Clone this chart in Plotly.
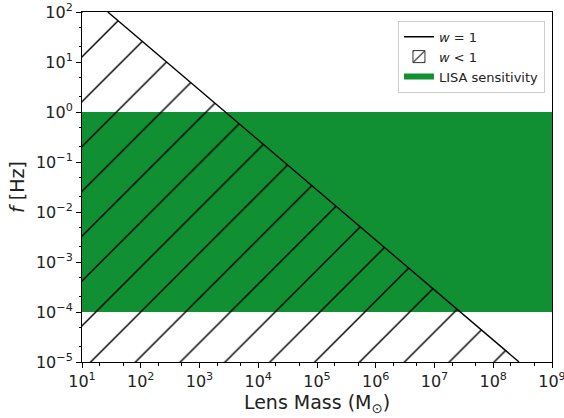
import plotly.graph_objects as go

# Data
x_range_exp = [1, 9]          # log10 of lens mass axis limits
y_range_exp = [-5, 2]         # log10 of frequency axis limits
w1_mass = [27.5, 2.75e8]      # w = 1 line endpoints (M_sun)
w1_freq = [1e2, 1e-5]         # w = 1 line endpoints (Hz)
lisa_f_low = 1e-4
lisa_f_high = 1e0
x_tick_exps = list(range(1, 10))
y_tick_exps = list(range(-5, 3))

xmin, xmax = 10 ** x_range_exp[0], 10 ** x_range_exp[1]
ymin, ymax = 10 ** y_range_exp[0], 10 ** y_range_exp[1]

fig = go.Figure()

# LISA band
fig.add_trace(go.Scatter(
    x=[xmin, xmax, xmax, xmin, xmin],
    y=[lisa_f_low, lisa_f_low, lisa_f_high, lisa_f_high, lisa_f_low],
    fill="toself", mode="none", fillcolor="#119033",
    name="LISA sensitivity", legendrank=3,
))

# hatched region w < 1
fig.add_trace(go.Scatter(
    x=[xmin, w1_mass[0], w1_mass[1], xmin, xmin],
    y=[ymax, w1_freq[0], w1_freq[1], ymin, ymax],
    fill="toself", mode="none",
    fillcolor="rgba(255,255,255,0)",
    fillpattern=dict(shape="/", size=31.7, solidity=0.045, fgcolor="black", fgopacity=1,
                     bgcolor="rgba(255,255,255,0)", fillmode="overlay"),
    showlegend=False,
))
# legend entry for the hatched region
fig.add_trace(go.Bar(
    x=[None], y=[None],
    marker=dict(color="white", line=dict(color="#333", width=1),
                pattern=dict(shape="/", size=14, solidity=0.12, fgcolor="black", fgopacity=1)),
    name="<i>w</i> &lt; 1", legendrank=2,
))

# w = 1 line
fig.add_trace(go.Scatter(
    x=w1_mass, y=w1_freq, mode="lines",
    line=dict(color="black", width=1.4),
    name="<i>w</i> = 1", legendrank=1,
))

axis_common = dict(
    type="log", showgrid=False, zeroline=False, automargin=False,
    showline=True, linecolor="black", linewidth=1, mirror=True,
    ticks="outside", ticklen=5, tickwidth=1, tickcolor="black",
    minor=dict(ticks="outside", ticklen=2.5, tickwidth=0.8, tickcolor="black", showgrid=False),
    tickfont=dict(family="DejaVu Sans", size=16, color="#222"),
    ticklabeloverflow="allow",
)

fig.update_xaxes(
    **axis_common,
    range=x_range_exp,
    tickvals=[10 ** e for e in x_tick_exps],
    ticktext=[f"10<sup>{e}</sup>" for e in x_tick_exps],
    title=dict(text="Lens Mass (M<sub>⊙</sub>)", font=dict(family="DejaVu Sans", size=19, color="#222"), standoff=4),
)
fig.update_yaxes(
    **axis_common,
    range=y_range_exp,
    tickvals=[10 ** e for e in y_tick_exps],
    ticktext=[f"10<sup>{'−' if e < 0 else ''}{abs(e)}</sup>" for e in y_tick_exps],
    title=dict(text="<i>f</i> [Hz]", font=dict(family="DejaVu Sans", size=19, color="#222"), standoff=6),
)

fig.update_layout(
    width=564, height=418,
    margin=dict(l=82, r=12, t=12, b=56, autoexpand=False),
    plot_bgcolor="white", paper_bgcolor="white",
    legend=dict(
        x=0.985, y=0.975, xanchor="right", yanchor="top",
        bgcolor="rgba(255,255,255,0.8)", bordercolor="#cccccc", borderwidth=1,
        font=dict(family="DejaVu Sans", size=13, color="#222"),
        tracegroupgap=0, itemwidth=30,
    ),
)

fig.write_html("out.html")
